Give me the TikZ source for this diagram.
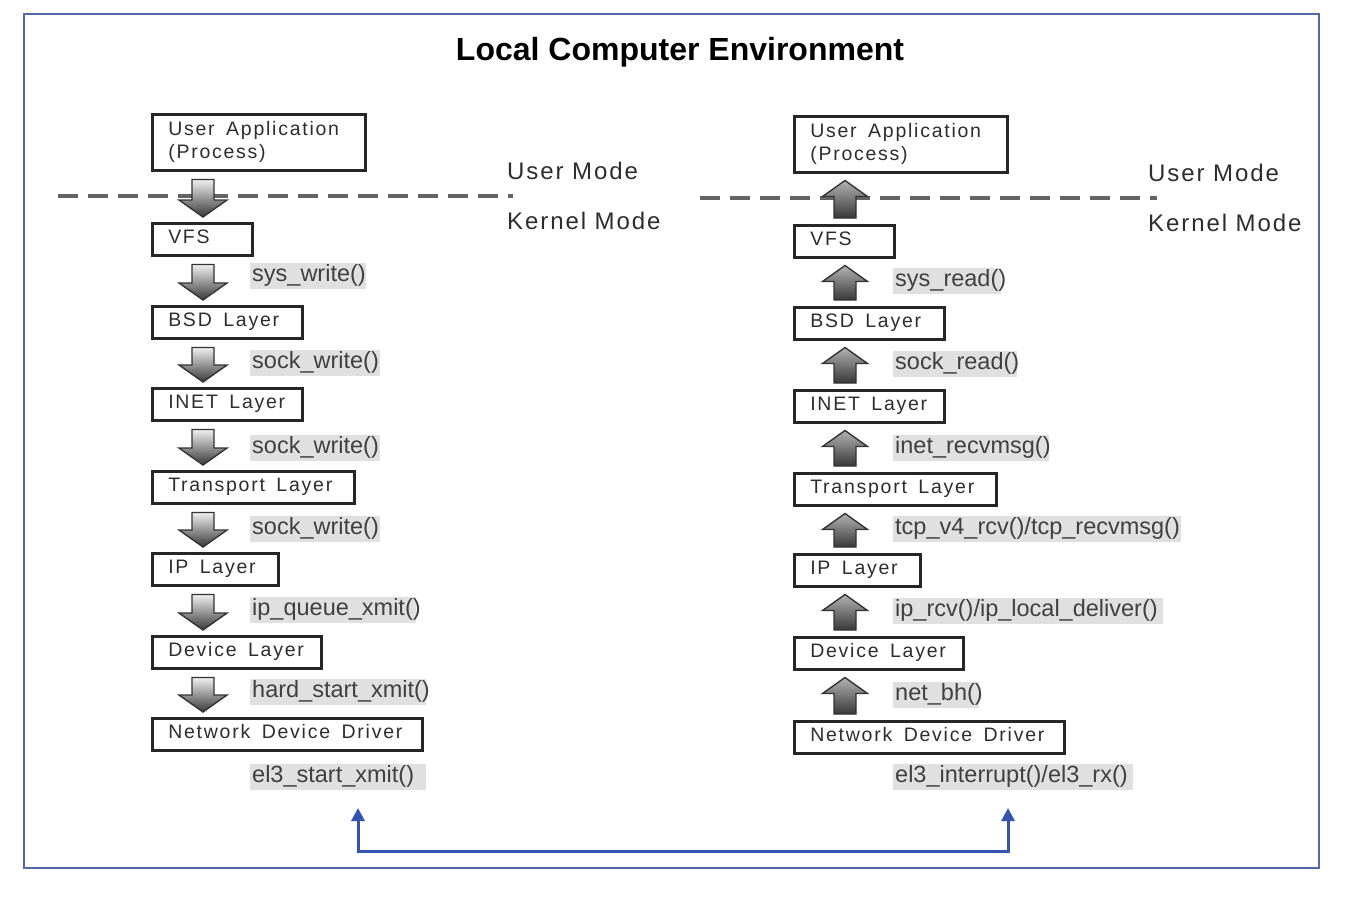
\documentclass[tikz,border=0pt]{standalone}
\usepackage{fontspec}
\setmainfont{Liberation Sans}
\newfontfamily\boxfont[LetterSpace=9,WordSpace=1.6]{Liberation Sans}
\newfontfamily\modefont[LetterSpace=8]{Liberation Sans}
\usetikzlibrary{calc,arrows.meta}
\definecolor{framecol}{RGB}{84,104,168}
\definecolor{bluearr}{RGB}{52,84,176}
\definecolor{labbg}{RGB}{224,224,224}
\definecolor{txt}{RGB}{45,45,45}
\definecolor{dashcol}{RGB}{100,100,100}
\tikzset{
  layerbox/.style={draw=black!85, line width=2.5pt, rectangle, anchor=north west,
    inner xsep=16pt, inner ysep=0pt, minimum height=32pt,
    font=\boxfont\fontsize{19.5}{23}\selectfont, text=txt},
  funclab/.style={fill=labbg, anchor=west, inner xsep=2pt, inner ysep=0pt,
    minimum height=24pt, font=\fontsize{23.5}{26}\selectfont, text=black!75},
  modetext/.style={anchor=west, inner sep=0pt, font=\modefont\fontsize{24}{27}\selectfont, text=txt},
  modeline/.style={draw=dashcol, line width=4pt, dash pattern=on 20pt off 10pt},
  dnshade/.style={top color=black!6, bottom color=black!78, draw=black!80, line width=1.4pt},
  upshade/.style={top color=black!30, bottom color=black!78, draw=black!80, line width=1.4pt},
  bluelink/.style={draw=bluearr, line width=3pt, {Triangle[width=13pt,length=13pt]}-{Triangle[width=13pt,length=13pt]}},
  framebox/.style={draw=framecol, line width=2pt},
  titletext/.style={font=\bfseries\fontsize{32}{36}\selectfont, text=black, inner sep=0pt}
}
\newcommand{\lbox}[5]{\node[layerbox] (#1) at (#2,#3) {\makebox[#4pt][l]{\strut #5}};}
\newcommand{\flab}[5]{\node[funclab] (#1) at (#2,#3) {\makebox[#4pt][l]{\strut #5}};}
\newcommand{\mydown}[2]{%
  \shadedraw[dnshade] let \p1=(#1.south west), \p2=(#2.north west) in
    (\x1+41pt,\y1-8pt) -- (\x1+63pt,\y1-8pt) -- (\x1+63pt,\y2+22pt) -- (\x1+76pt,\y2+22pt)
    -- (\x1+52pt,\y2+5pt) -- (\x1+28pt,\y2+22pt) -- (\x1+41pt,\y2+22pt) -- cycle;}
\newcommand{\myup}[2]{%
  \shadedraw[upshade] let \p1=(#1.south west), \p2=(#2.north west) in
    (\x1+52pt,\y1-7pt) -- (\x1+74.5pt,\y1-23pt) -- (\x1+63pt,\y1-23pt) -- (\x1+63pt,\y2+6pt)
    -- (\x1+41pt,\y2+6pt) -- (\x1+41pt,\y1-23pt) -- (\x1+29.5pt,\y1-23pt) -- cycle;}
\begin{document}
\begin{tikzpicture}[x=1pt,y=-1pt]
\useasboundingbox[fill=white] (0,0) rectangle (1354,902);
\draw[framebox] (24,14) rectangle (1319,868);
\node[titletext] (title) at (680,52) {Local Computer Environment};

% dashed mode lines
\coordinate (dlA) at (58,196);
\coordinate (dlB) at (513,196);
\coordinate (drA) at (700,198);
\coordinate (drB) at (1157,198);
\draw[modeline] (dlA) -- (dlB);
\draw[modeline] (drA) -- (drB);

\node[modetext] (umL) at (507,171) {User Mode};
\node[modetext] (kmL) at (507,221) {Kernel Mode};
\node[modetext] (umR) at (1148,173) {User Mode};
\node[modetext] (kmR) at (1148,223) {Kernel Mode};

% left column
\node[layerbox, minimum height=56pt] (uaL) at (151,113) {\makebox[181pt][l]{\begin{tabular}{@{}l@{}}User Application\\(Process)\end{tabular}}};
\lbox{vfsL}{151}{222}{68}{VFS}
\lbox{bsdL}{151}{305}{118}{BSD Layer}
\lbox{inetL}{151}{387}{118}{INET Layer}
\lbox{trL}{151}{470}{170}{Transport Layer}
\lbox{ipL}{151}{552}{94}{IP Layer}
\lbox{devL}{151}{635}{137}{Device Layer}
\lbox{nddL}{151}{717}{238}{Network Device Driver}

% right column
\node[layerbox, minimum height=56pt] (uaR) at (793,115) {\makebox[181pt][l]{\begin{tabular}{@{}l@{}}User Application\\(Process)\end{tabular}}};
\lbox{vfsR}{793}{224}{68}{VFS}
\lbox{bsdR}{793}{306}{118}{BSD Layer}
\lbox{inetR}{793}{389}{118}{INET Layer}
\lbox{trR}{793}{472}{170}{Transport Layer}
\lbox{ipR}{793}{553}{94}{IP Layer}
\lbox{devR}{793}{636}{137}{Device Layer}
\lbox{nddR}{793}{720}{238}{Network Device Driver}

% arrows
\mydown{uaL}{vfsL}
\mydown{vfsL}{bsdL}
\mydown{bsdL}{inetL}
\mydown{inetL}{trL}
\mydown{trL}{ipL}
\mydown{ipL}{devL}
\mydown{devL}{nddL}
\myup{uaR}{vfsR}
\myup{vfsR}{bsdR}
\myup{bsdR}{inetR}
\myup{inetR}{trR}
\myup{trR}{ipR}
\myup{ipR}{devR}
\myup{devR}{nddR}

% function labels
\flab{fl1}{250}{276}{112}{sys\_write()}
\flab{fl2}{250}{363}{126}{sock\_write()}
\flab{fl3}{250}{448}{126}{sock\_write()}
\flab{fl4}{250}{529}{126}{sock\_write()}
\flab{fl5}{250}{610}{162}{ip\_queue\_xmit()}
\flab{fl6}{250}{692}{172}{hard\_start\_xmit()}
\flab{fl7}{250}{777}{172}{el3\_start\_xmit()}
\flab{fr1}{893}{281}{104}{sys\_read()}
\flab{fr2}{893}{364}{120}{sock\_read()}
\flab{fr3}{893}{448}{152}{inet\_recvmsg()}
\flab{fr4}{893}{529}{284}{tcp\_v4\_rcv()/tcp\_recvmsg()}
\flab{fr5}{893}{611}{266}{ip\_rcv()/ip\_local\_deliver()}
\flab{fr6}{893}{695}{82}{net\_bh()}
\flab{fr7}{893}{777}{236}{el3\_interrupt()/el3\_rx()}

% blue link
\coordinate (blL) at (358,808);
\coordinate (blR) at (1008,808);
\coordinate (blM) at (683,851);
\draw[bluelink] (blL) |- (blM) -| (blR);
\end{tikzpicture}
\end{document}
